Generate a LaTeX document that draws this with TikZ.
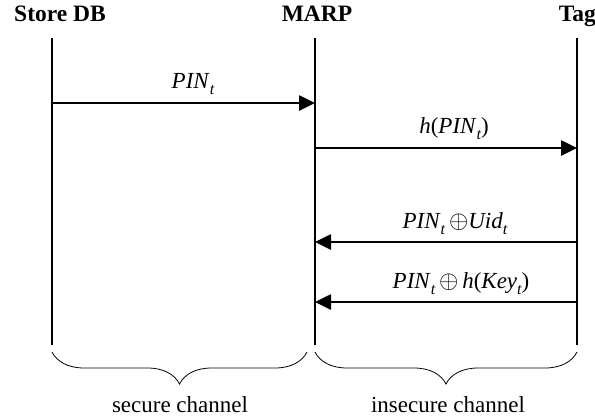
\documentclass[tikz,border=0pt]{standalone}
\usepackage{fontspec}
\setmainfont{Liberation Serif}
\usetikzlibrary{arrows.meta,decorations.pathreplacing}

% italic subscript t used in the message labels
\newcommand{\tsub}{\raisebox{-6pt}{\fontsize{16}{16}\selectfont\itshape t}}

\begin{document}
\begin{tikzpicture}[x=1pt,y=-1pt,
  actor/.style={font=\fontsize{23.5}{27}\selectfont\bfseries, inner sep=0pt, anchor=base},
  life/.style={line width=2.6pt},
  msg/.style={line width=2.6pt, -{Triangle[length=16pt,width=15pt]}},
  lbl/.style={font=\fontsize{23}{27}\selectfont, inner sep=0pt, anchor=base},
  brc/.style={decorate, decoration={brace, mirror, amplitude=32pt}, line width=0.8pt}]

\useasboundingbox (0,0) rectangle (595,418);

% participants
\node[actor] (db) at (60,21) {Store DB};
\node[actor] (marp) at (317,21) {MARP};
\node[actor, anchor=base east] (tag) at (596,21) {Tag};

% lifelines
\coordinate (dbT) at (52,38);   \coordinate (dbB) at (52,345);
\coordinate (mT) at (315,38);   \coordinate (mB) at (315,345);
\coordinate (tT) at (577,38);   \coordinate (tB) at (577,345);
\draw[life] (dbT) -- (dbB);
\draw[life] (mT) -- (mB);
\draw[life] (tT) -- (tB);

% message end points on the lifelines
\coordinate (d1) at (52,103);  \coordinate (m1) at (315,103);
\coordinate (m2) at (315,148); \coordinate (t2) at (577,148);
\coordinate (t3) at (577,242); \coordinate (m3) at (315,242);
\coordinate (t4) at (577,302); \coordinate (m4) at (315,302);

\draw[msg] (d1) -- (m1);
\draw[msg] (m2) -- (t2);
\draw[msg] (t3) -- (m3);
\draw[msg] (t4) -- (m4);

% message labels
\node[lbl] (l1) at (193,88) {\textit{PIN}\tsub};
\node[lbl] (l2) at (454,133) {\textit{h}(\textit{PIN}\tsub)};
\node[lbl] (l3) at (455,228) {\textit{PIN}\tsub\,$\oplus$\textit{Uid}\tsub};
\node[lbl] (l4) at (461,288) {\textit{PIN}\tsub\,$\oplus$\,\textit{h}(\textit{Key}\tsub)};

% channel braces
\coordinate (bl1) at (52,352);  \coordinate (bl2) at (307,352);
\coordinate (br1) at (315,352); \coordinate (br2) at (577,352);
\draw[brc] (bl1) -- (bl2);
\draw[brc] (br1) -- (br2);

\node[lbl] (sec) at (180,412) {secure channel};
\node[lbl] (insec) at (448,412) {insecure channel};
\end{tikzpicture}
\end{document}
